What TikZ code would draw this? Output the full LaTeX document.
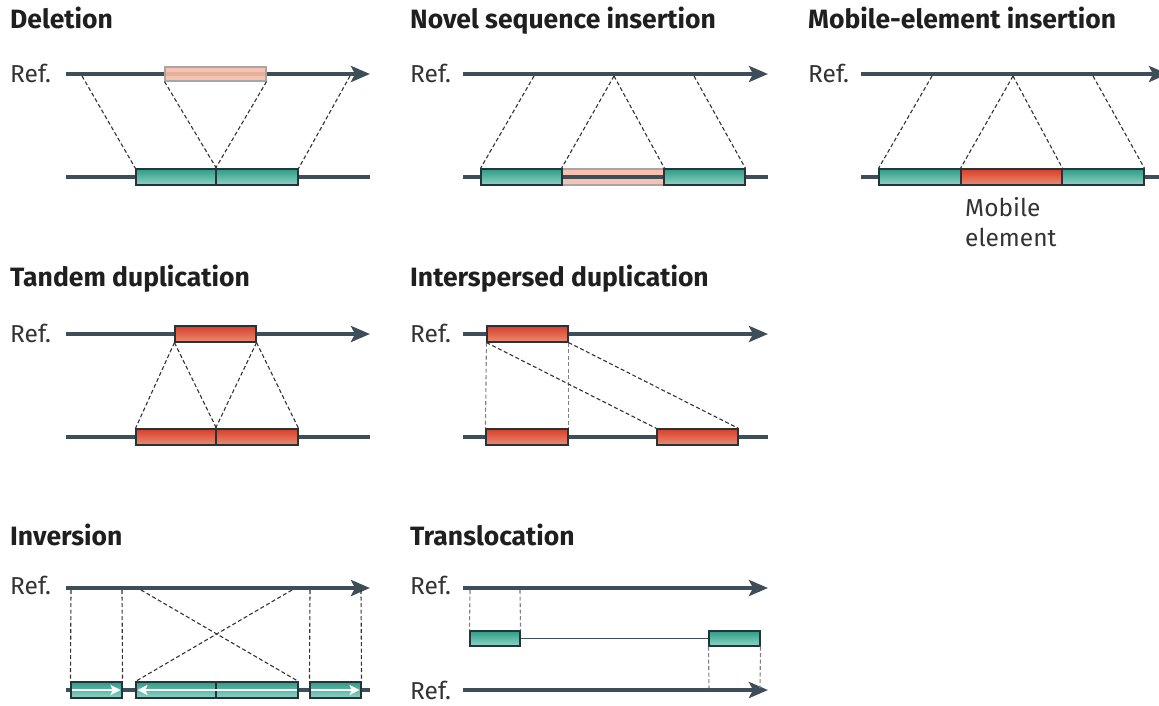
\documentclass[tikz,border=0pt]{standalone}
\usepackage{fontspec}
\setmainfont{Fira Sans}
\usetikzlibrary{arrows.meta}
\definecolor{refgrey}{HTML}{3E4E59}
\definecolor{tealdark}{HTML}{2E9C86}
\definecolor{teallight}{HTML}{8FD4C6}
\definecolor{reddark}{HTML}{D63F28}
\definecolor{redlight}{HTML}{EE8B74}
\definecolor{pinkfill}{HTML}{F6BCA6}
\definecolor{boxedge}{HTML}{25333B}

\begin{document}
\begin{tikzpicture}[ x=1pt, y=-1pt,
										title/.style={anchor=base west, inner sep=0, font=\bfseries\fontsize{26.5}{30}\selectfont, text=black!88},
										reflabel/.style={anchor=base west, inner sep=0, font=\fontsize{24.5}{30}\selectfont, text=black!80},
										refline/.style={draw=refgrey, line width=4.5pt, -{Stealth[length=19pt,width=16pt,inset=4pt]}},
										plainline/.style={draw=refgrey, line width=4.5pt},
										thinline/.style={draw=refgrey, line width=1.6pt},
										segment/.style={draw=boxedge, line width=1.1pt, minimum height=16pt, inner sep=0},
										tealbox/.style={segment, top color=tealdark, bottom color=teallight},
										redbox/.style={segment, top color=reddark, bottom color=redlight},
										pinkbox/.style={segment, draw=black!35, fill=pinkfill, fill opacity=0.9},
										map/.style={draw=black!80, dash pattern=on 4pt off 2.5pt, line width=1.1pt},
										strand/.style={draw=white, line width=2.6pt, -{Stealth[length=10pt,width=10pt,inset=2pt]}}]

		\useasboundingbox (0,0) rectangle (1159,705);

		% Deletion
		\node [title] (ttlDel) at (10,28) {Deletion};
		\node [reflabel] (refDel) at (10,82) {Ref.};
		\coordinate (delA) at (66,74);
		\coordinate (delB) at (370,74);
		\draw [refline] (delA) -- (delB);
		\node [pinkbox, minimum width=101pt, minimum height=14pt] (delGap) at (215.5,74) {};
		\coordinate (delC) at (66,177);
		\coordinate (delD) at (370,177);
		\draw [plainline] (delC) -- (delD);
		\node [tealbox, minimum width=80pt] (delL) at (176,177) {};
		\node [tealbox, minimum width=82pt] (delR) at (257,177) {};
		\coordinate (delP1) at (82,76);
		\coordinate (delP2) at (350,76);
		\draw [map] (delP1) -- (delL.north west);
		\draw [map] (delGap.south west) -- (delL.north east);
		\draw [map] (delGap.south east) -- (delR.north west);
		\draw [map] (delP2) -- (delR.north east);

		% Novel sequence insertion
		\node [title] (ttlIns) at (410,28) {Novel sequence insertion};
		\node [reflabel] (refIns) at (410,82) {Ref.};
		\coordinate (insA) at (463,74);
		\coordinate (insB) at (768,74);
		\draw [refline] (insA) -- (insB);
		\node [pinkbox, minimum width=102pt] (insN) at (613,177) {};
		\coordinate (insC) at (463,177);
		\coordinate (insD) at (768,177);
		\draw [plainline] (insC) -- (insD);
		\node [tealbox, minimum width=81pt] (insL) at (521.5,177) {};
		\node [tealbox, minimum width=81pt] (insR) at (704.5,177) {};
		\coordinate (insP1) at (534,76);
		\coordinate (insP2) at (614,76);
		\coordinate (insP3) at (694,76);
		\draw [map] (insP1) -- (insL.north west);
		\draw [map] (insP2) -- (insN.north west);
		\draw [map] (insP2) -- (insN.north east);
		\draw [map] (insP3) -- (insR.north east);

		% Mobile-element insertion
		\node [title] (ttlMob) at (808,28) {Mobile-element insertion};
		\node [reflabel] (refMob) at (808,82) {Ref.};
		\coordinate (mobA) at (861,74);
		\coordinate (mobB) at (1168,74);
		\draw [refline] (mobA) -- (mobB);
		\coordinate (mobC) at (861,177);
		\coordinate (mobD) at (1159,177);
		\draw [plainline] (mobC) -- (mobD);
		\node [tealbox, minimum width=82pt] (mobL) at (920,177) {};
		\node [redbox, minimum width=101pt] (mobE) at (1011.5,177) {};
		\node [tealbox, minimum width=82pt] (mobR) at (1103,177) {};
		\node [reflabel, align=left, anchor=north west] (mobTxt) at (965,197) {Mobile\\element};
		\coordinate (mobP1) at (932,76);
		\coordinate (mobP2) at (1013,76);
		\coordinate (mobP3) at (1093,76);
		\draw [map] (mobP1) -- (mobL.north west);
		\draw [map] (mobP2) -- (mobE.north west);
		\draw [map] (mobP2) -- (mobE.north east);
		\draw [map] (mobP3) -- (mobR.north east);

		% Tandem duplication
		\node [title] (ttlTan) at (10,286) {Tandem duplication};
		\node [reflabel] (refTan) at (10,342) {Ref.};
		\coordinate (tanA) at (66,334);
		\coordinate (tanB) at (370,334);
		\draw [refline] (tanA) -- (tanB);
		\node [redbox, minimum width=81pt] (tanT) at (215.5,334) {};
		\coordinate (tanC) at (66,437);
		\coordinate (tanD) at (370,437);
		\draw [plainline] (tanC) -- (tanD);
		\node [redbox, minimum width=80pt] (tanL) at (176,437) {};
		\node [redbox, minimum width=82pt] (tanR) at (257,437) {};
		\draw [map] (tanT.south west) -- (tanL.north west);
		\draw [map] (tanT.south west) -- (tanL.north east);
		\draw [map] (tanT.south east) -- (tanR.north west);
		\draw [map] (tanT.south east) -- (tanR.north east);

		% Interspersed duplication
		\node [title] (ttlInt) at (410,286) {Interspersed duplication};
		\node [reflabel] (refInt) at (410,342) {Ref.};
		\coordinate (intA) at (463,334);
		\coordinate (intB) at (768,334);
		\draw [refline] (intA) -- (intB);
		\node [redbox, minimum width=81pt] (intT) at (527.5,334) {};
		\coordinate (intC) at (463,437);
		\coordinate (intD) at (768,437);
		\draw [plainline] (intC) -- (intD);
		\node [redbox, minimum width=82pt] (intL) at (527,437) {};
		\node [redbox, minimum width=81pt] (intR) at (697.5,437) {};
		\draw [map, draw=black!50] (intT.south west) -- (intL.north west);
		\draw [map, draw=black!50] (intT.south east) -- (intL.north east);
		\draw [map] (intT.south west) -- (intR.north west);
		\draw [map] (intT.south east) -- (intR.north east);

		% Inversion
		\node [title] (ttlInv) at (10,545) {Inversion};
		\node [reflabel] (refInv) at (10,594) {Ref.};
		\coordinate (invA) at (66,588);
		\coordinate (invB) at (370,588);
		\draw [refline] (invA) -- (invB);
		\coordinate (invC) at (66,690);
		\coordinate (invD) at (370,690);
		\draw [plainline] (invC) -- (invD);
		\node [tealbox, minimum width=51pt] (inv1) at (96.5,690) {};
		\node [tealbox, minimum width=80pt] (inv2) at (176,690) {};
		\node [tealbox, minimum width=82pt] (inv3) at (257,690) {};
		\node [tealbox, minimum width=51pt] (inv4) at (335.5,690) {};
		\draw [strand] ([xshift=2pt]inv1.west) -- ([xshift=-2pt]inv1.east);
		\draw [strand] ([xshift=-2pt]inv3.east) -- ([xshift=2pt]inv2.west);
		\draw [strand] ([xshift=2pt]inv4.west) -- ([xshift=-2pt]inv4.east);
		\coordinate (invP1) at (71,590);
		\coordinate (invP2) at (122,590);
		\coordinate (invP3) at (141,590);
		\coordinate (invP4) at (292,590);
		\coordinate (invP5) at (310,590);
		\coordinate (invP6) at (361,590);
		\draw [map] (invP1) -- (inv1.north west);
		\draw [map] (invP2) -- (inv1.north east);
		\draw [map] (invP3) -- (inv3.north east);
		\draw [map] (invP4) -- (inv2.north west);
		\draw [map] (invP5) -- (inv4.north west);
		\draw [map] (invP6) -- (inv4.north east);

		% Translocation
		\node [title] (ttlTra) at (410,545) {Translocation};
		\node [reflabel] (refTra) at (410,594) {Ref.};
		\node [reflabel] (refTra2) at (410,699) {Ref.};
		\coordinate (traA) at (463,588);
		\coordinate (traB) at (768,588);
		\draw [refline] (traA) -- (traB);
		\coordinate (traC) at (463,690);
		\coordinate (traD) at (768,690);
		\draw [refline] (traC) -- (traD);
		\node [tealbox, minimum width=50pt, minimum height=15pt] (tra1) at (495,638.5) {};
		\node [tealbox, minimum width=51pt, minimum height=15pt] (tra2) at (734.5,638.5) {};
		\draw [thinline] (tra1.east) -- (tra2.west);
		\coordinate (traP1) at (470,590);
		\coordinate (traP2) at (520,590);
		\coordinate (traQ1) at (709,688);
		\coordinate (traQ2) at (760,688);
		\draw [map, draw=black!50] (traP1) -- (tra1.north west);
		\draw [map, draw=black!50] (traP2) -- (tra1.north east);
		\draw [map, draw=black!50] (tra2.south west) -- (traQ1);
		\draw [map, draw=black!50] (tra2.south east) -- (traQ2);

\end{tikzpicture}
\end{document}
